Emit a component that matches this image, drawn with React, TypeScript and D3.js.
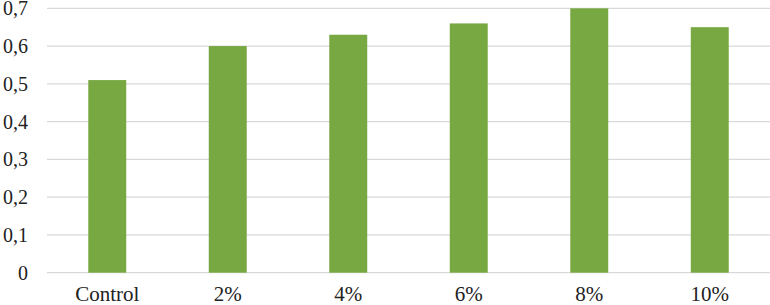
import React, { useRef, useEffect } from 'react';
import * as d3 from 'd3';

const categories = ['Control', '2%', '4%', '6%', '8%', '10%'];
const values = [0.51, 0.6, 0.63, 0.66, 0.7, 0.65];
const yTicks = [0, 0.1, 0.2, 0.3, 0.4, 0.5, 0.6, 0.7];

const FONT = "'Times New Roman', Times, 'Liberation Serif', 'DejaVu Serif', serif";

function BarChart() {
  const ref = useRef<SVGSVGElement>(null);

  useEffect(() => {
    if (!ref.current) return;
    const svg = d3.select(ref.current);
    svg.selectAll('*').remove();

    const width = 770;
    const height = 305;
    const margin = { top: 8, right: 0, bottom: 32, left: 47 };

    const x = d3.scaleBand()
      .domain(categories)
      .range([margin.left, width - margin.right])
      .paddingInner(0.685)
      .paddingOuter(0.3425);

    const y = d3.scaleLinear()
      .domain([0, 0.7])
      .range([height - margin.bottom - 0.3, margin.top + 0.3]);

    // gridlines
    svg.append('g')
      .selectAll('line')
      .data(yTicks)
      .enter().append('line')
      .attr('x1', margin.left)
      .attr('x2', width - margin.right)
      .attr('y1', d => y(d))
      .attr('y2', d => y(d))
      .attr('stroke', '#d9d9d9')
      .attr('stroke-width', 1.3);

    // bars
    svg.append('g')
      .selectAll('rect')
      .data(values)
      .enter().append('rect')
      .attr('x', (_, i) => x(categories[i])!)
      .attr('y', d => y(d))
      .attr('width', x.bandwidth())
      .attr('height', d => y(0) - y(d))
      .attr('fill', '#78a842');

    const fmt = (d: number) => (d === 0 ? '0' : d3.format('.1f')(d).replace('.', ','));

    // y labels
    svg.append('g')
      .selectAll('text')
      .data(yTicks)
      .enter().append('text')
      .attr('x', 28)
      .attr('y', d => y(d))
      .attr('dy', '0.35em')
      .attr('text-anchor', 'end')
      .attr('fill', '#222')
      .style('font-family', FONT)
      .style('font-size', '20px')
      .text(fmt);

    // x labels
    svg.append('g')
      .selectAll('text')
      .data(categories)
      .enter().append('text')
      .attr('x', d => x(d)! + x.bandwidth() / 2)
      .attr('y', 301)
      .attr('text-anchor', 'middle')
      .attr('fill', '#222')
      .style('font-family', FONT)
      .style('font-size', '21px')
      .text(d => d);
  }, []);

  return (
    <svg ref={ref} width={770} height={305}
      style={{ position: 'absolute', left: 0, top: 0, background: '#fff', fontFamily: FONT }} />
  );
}

export default function App() {
  return <BarChart />;
}
